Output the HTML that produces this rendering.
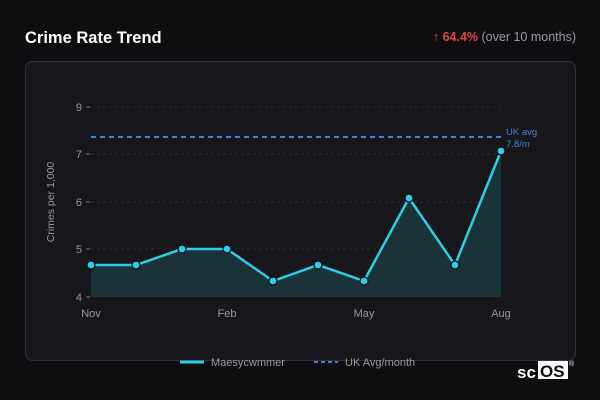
<!DOCTYPE html>
<html><head><style>
body{margin:0;width:600px;height:400px;background:#0e0e11;font-family:"Liberation Sans",sans-serif;overflow:hidden;position:relative}
</style></head><body>
<svg width="600" height="400" style="position:absolute;left:0;top:0" font-family="Liberation Sans, sans-serif">
<text x="25" y="43" fill="#fff" font-size="16.5" font-weight="bold">Crime Rate Trend</text>
<text x="576" y="41" text-anchor="end" font-size="12.5" fill="#9a9aa0"><tspan fill="#e04848">↑ </tspan><tspan fill="#e04848" font-weight="bold">64.4%</tspan> (over 10 months)</text>
<rect x="25.5" y="61.5" width="550" height="299" rx="7" fill="#17171b" stroke="#333338"/>
<g stroke="#2a2a30" stroke-dasharray="3,3" stroke-width="1">
<line x1="91" x2="501" y1="107" y2="107"/><line x1="91" x2="501" y1="154" y2="154"/><line x1="91" x2="501" y1="202" y2="202"/><line x1="91" x2="501" y1="249" y2="249"/>
</g>
<g stroke="#777" stroke-width="1">
<line x1="86" x2="90" y1="107" y2="107"/><line x1="86" x2="90" y1="154" y2="154"/><line x1="86" x2="90" y1="202" y2="202"/><line x1="86" x2="90" y1="249" y2="249"/><line x1="86" x2="90" y1="297" y2="297"/>
</g>
<g fill="#999" font-size="11" text-anchor="end">
<text x="82" y="111">9</text><text x="82" y="158">7</text><text x="82" y="206">6</text><text x="82" y="253">5</text><text x="82" y="301">4</text>
</g>
<text transform="translate(54,202) rotate(-90)" fill="#999" font-size="10.5" text-anchor="middle">Crimes per 1,000</text>
<g fill="#999" font-size="11" text-anchor="middle">
<text x="91" y="317">Nov</text><text x="227" y="317">Feb</text><text x="364" y="317">May</text><text x="501" y="317">Aug</text>
</g>
<path d="M91,265 L136,265 L182,249 L227,249 L273,281 L318,265 L364,281 L409,198 L455,265 L501,151 L501,297 L91,297Z" fill="#1a3339"/>
<line x1="91" x2="501" y1="137" y2="137" stroke="#4a7fd8" stroke-width="2" stroke-dasharray="5,4"/>
<text x="506" y="135" fill="#4a7fd8" font-size="9.5">UK avg</text>
<text x="506" y="147" fill="#4a7fd8" font-size="9.5">7.8/m</text>
<polyline points="91,265 136,265 182,249 227,249 273,281 318,265 364,281 409,198 455,265 501,151" fill="none" stroke="#2ecfe6" stroke-width="2.5"/>
<g fill="#2ecfe6" stroke="#0e0e11" stroke-width="1.2">
<circle cx="91" cy="265" r="4"/><circle cx="136" cy="265" r="4"/><circle cx="182" cy="249" r="4"/><circle cx="227" cy="249" r="4"/><circle cx="273" cy="281" r="4"/><circle cx="318" cy="265" r="4"/><circle cx="364" cy="281" r="4"/><circle cx="409" cy="198" r="4"/><circle cx="455" cy="265" r="4"/><circle cx="501" cy="151" r="4"/>
</g>
<line x1="180" x2="204" y1="362" y2="362" stroke="#2ecfe6" stroke-width="3"/>
<text x="211" y="366" fill="#999" font-size="11">Maesycwmmer</text>
<line x1="314" x2="338" y1="362" y2="362" stroke="#4a7fd8" stroke-width="2" stroke-dasharray="4,3"/>
<text x="345" y="366" fill="#999" font-size="11">UK Avg/month</text>
<text x="517" y="378" fill="#fff" font-size="17" font-weight="bold">sc</text>
<rect x="538" y="361" width="30" height="18" fill="#fff"/>
<text x="540" y="377" fill="#0e0e11" font-size="17" font-weight="bold">OS</text>
<text x="569" y="366" fill="#fff" font-size="7">®</text>
</svg>
</body></html>
